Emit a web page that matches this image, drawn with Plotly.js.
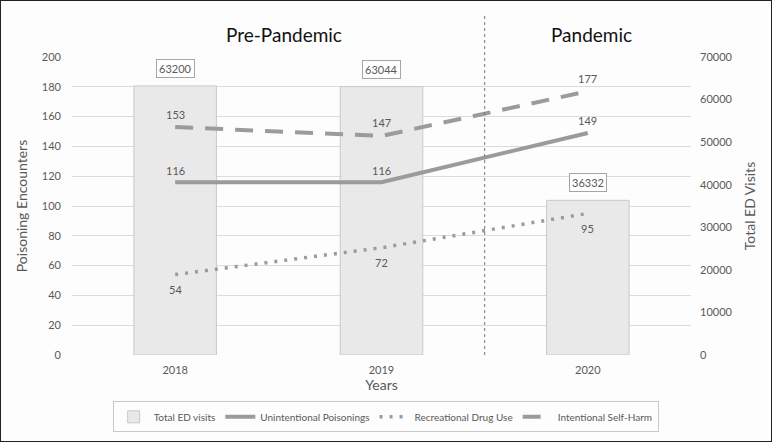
<!DOCTYPE html>
<html><head><meta charset="utf-8">
<script src="https://cdn.plot.ly/plotly-3.0.1.min.js"></script>
<style>html,body{margin:0;padding:0;background:#fff}#c{width:772px;height:442px;box-sizing:border-box;border:1px solid #222}</style>
</head><body><div id="c"></div>
<script>
const years = ["2018","2019","2020"];
const totalED = [63200, 63044, 36332];
const unintentional = [116, 116, 149];
const recreational = [54, 72, 95];
const selfHarm = [153, 147, 177];
const periodTitles = ["Pre-Pandemic", "Pandemic"];

const grey = "#9b9b9b";
const txt = "#595959";
const F = "Lato, Open Sans, sans-serif";

const traces = [
  {type:"bar", name:"Total ED visits", x:years, y:totalED, yaxis:"y", width:0.4,
   marker:{color:"#e9e9e9", line:{color:"#c9c9c9", width:1}}},
  {type:"scatter", mode:"lines", name:"Unintentional Poisonings", x:years, y:unintentional, yaxis:"y2",
   line:{color:grey, width:4}},
  {type:"scatter", mode:"lines", name:"Recreational Drug Use", x:years, y:recreational, yaxis:"y2",
   line:{color:grey, width:3.5, dash:"3px,7px"}},
  {type:"scatter", mode:"lines", name:"Intentional Self-Harm", x:years, y:selfHarm, yaxis:"y2",
   line:{color:grey, width:4, dash:"18px,12px"}}
];

const annotations = years.map((yr,i)=>({
  x:i, y:totalED[i], xref:"x", yref:"y", text:String(totalED[i]), showarrow:false,
  yanchor:"bottom", yshift:8, font:{size:11, color:txt, family:F}, bordercolor:"#a6a6a6", borderwidth:1,
  borderpad:2, bgcolor:"#ffffff"
}));
function lineLabels(vals, shift){
  vals.forEach((v,i)=>annotations.push({x:i, y:v, xref:"x", yref:"y2", text:String(v), showarrow:false,
    yshift:shift, font:{size:11, color:txt, family:F}}));
}
lineLabels(unintentional, 12);
lineLabels(recreational, -15);
lineLabels(selfHarm, 13);
annotations.push({x:0.342, y:1.03, xref:"paper", yref:"paper", text:periodTitles[0], showarrow:false,
  xanchor:"center", yanchor:"bottom", font:{size:19, color:"#111", family:F}});
annotations.push({x:0.839, y:1.03, xref:"paper", yref:"paper", text:periodTitles[1], showarrow:false,
  xanchor:"center", yanchor:"bottom", font:{size:19, color:"#111", family:F}});

const layout = {
  width:770, height:440,
  margin:{l:71, r:80, t:56, b:86},
  paper_bgcolor:"#fdfdfd", plot_bgcolor:"#fdfdfd",
  font:{family:F, color:txt},
  showlegend:true,
  legend:{orientation:"h", xref:"container", yref:"container", x:0.145, xanchor:"left",
    y:0.055, yanchor:"middle",
    bordercolor:"#c9c9c9", borderwidth:1, font:{size:10, color:txt, family:F},
    traceorder:"normal", itemwidth:30, tracegroupgap:0},
  xaxis:{type:"category", range:[-0.5,2.5], showgrid:false, zeroline:false, showline:false,
    ticks:"", tickfont:{size:11, color:txt}, ticklabelstandoff:7,
    title:{text:"Years", font:{size:14, color:txt}, standoff:1}},
  yaxis:{range:[0,70000], dtick:10000, side:"right", showgrid:false, tickformat:"d",
    zeroline:false, showline:false, tickfont:{size:11, color:txt}, ticks:"", ticklabelstandoff:8,
    title:{text:"Total ED Visits", font:{size:14, color:txt}, standoff:13}},
  yaxis2:{range:[0,200], dtick:20, overlaying:"y", side:"left", gridcolor:"#dcdcdc", gridwidth:1, zeroline:false,
    showline:false, tickfont:{size:11, color:txt}, ticks:"", ticklabelstandoff:10,
    title:{text:"Poisoning Encounters", font:{size:14, color:txt}, standoff:10}},
  shapes:[{type:"line", xref:"x", yref:"paper", x0:1.5, x1:1.5, y0:0, y1:1.145,
    line:{color:"#777", width:1, dash:"dot"}}],
  annotations:annotations
};
Plotly.newPlot("c", traces, layout, {displayModeBar:false, staticPlot:true});
</script></body></html>
